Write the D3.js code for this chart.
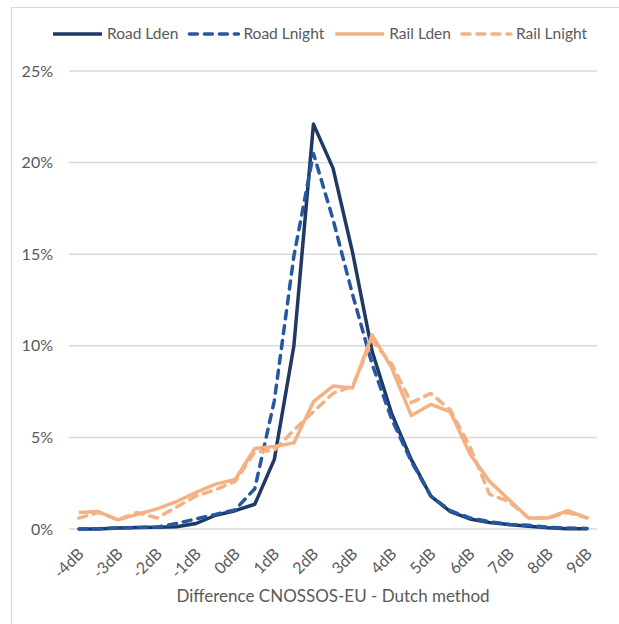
<!DOCTYPE html>
<html>
<head>
<meta charset="utf-8">
<script src="https://cdn.jsdelivr.net/npm/d3@7"></script>
<style>
  body { margin: 0; background: #fff; }
  svg text { font-family: Lato, "Open Sans", sans-serif; fill: #595959; }
</style>
</head>
<body>
<div id="chart"></div>
<script>
const categories = ["-4dB", "-3.5dB", "-3dB", "-2.5dB", "-2dB", "-1.5dB", "-1dB", "-0.5dB", "0dB",
  "0.5dB", "1dB", "1.5dB", "2dB", "2.5dB", "3dB", "3.5dB", "4dB", "4.5dB", "5dB", "5.5dB",
  "6dB", "6.5dB", "7dB", "7.5dB", "8dB", "8.5dB", "9dB"];
const tickLabels = ["-4dB", "-3dB", "-2dB", "-1dB", "0dB", "1dB", "2dB", "3dB", "4dB", "5dB", "6dB", "7dB", "8dB", "9dB"];

// percentages
const roadLden = [0.0, 0.0, 0.05, 0.08, 0.1, 0.12, 0.3, 0.75, 1.0, 1.35, 3.8, 10.0, 22.1, 19.7, 15.1, 9.7, 6.3, 3.8, 1.8, 0.95, 0.55, 0.35, 0.25, 0.15, 0.07, 0.02, 0.02];
const roadLnight = [0.0, 0.02, 0.05, 0.08, 0.1, 0.3, 0.55, 0.8, 1.05, 2.2, 7.0, 14.9, 20.5, 16.9, 12.8, 9.0, 6.0, 3.7, 1.8, 1.0, 0.6, 0.4, 0.25, 0.2, 0.1, 0.05, 0.03];
const railLden = [0.9, 0.95, 0.5, 0.8, 1.1, 1.5, 2.0, 2.45, 2.7, 4.4, 4.5, 4.7, 6.95, 7.8, 7.7, 10.6, 8.8, 6.2, 6.8, 6.4, 4.1, 2.6, 1.6, 0.6, 0.6, 1.0, 0.6];
const railLnight = [0.6, 0.9, 0.5, 0.9, 0.6, 1.2, 1.8, 2.15, 2.6, 4.2, 4.3, 5.4, 6.4, 7.4, 7.8, 10.3, 9.0, 6.9, 7.4, 6.5, 4.5, 1.9, 1.5, 0.6, 0.6, 0.9, 0.6];
const yTicks = [0, 5, 10, 15, 20, 25];

const series = [
  { name: "Road Lden", values: roadLden, color: "#1F3864", dash: null },
  { name: "Road Lnight", values: roadLnight, color: "#2558A3", dash: "8,7" },
  { name: "Rail Lden", values: railLden, color: "#F4B183", dash: null },
  { name: "Rail Lnight", values: railLnight, color: "#F4B183", dash: "8,7" }
];

const W = 619, H = 624;
const plot = { left: 69, right: 597, top: 71, bottom: 529 };

const svg = d3.select("#chart").append("svg")
  .attr("width", W)
  .attr("height", H);

// chart frame
svg.append("rect")
  .attr("x", 11.5).attr("y", 7.5)
  .attr("width", W + 20).attr("height", H + 20)
  .attr("fill", "none")
  .attr("stroke", "#D9D9D9")
  .attr("stroke-width", 1);

const x = d3.scaleBand()
  .domain(categories)
  .range([plot.left, plot.right])
  .padding(0);
const cx = c => x(c) + x.bandwidth() / 2;

const y = d3.scaleLinear()
  .domain([0, 25])
  .range([plot.bottom, plot.top]);

// gridlines + y labels
svg.append("g")
  .selectAll("line")
  .data(yTicks)
  .join("line")
  .attr("x1", plot.left)
  .attr("x2", plot.right)
  .attr("y1", d => y(d))
  .attr("y2", d => y(d))
  .attr("stroke", "#D9D9D9")
  .attr("stroke-width", 1.5);

svg.append("g")
  .selectAll("text")
  .data(yTicks)
  .join("text")
  .attr("x", 53)
  .attr("y", d => y(d))
  .attr("dy", "0.35em")
  .attr("text-anchor", "end")
  .style("font-size", "16px")
  .text(d => d + "%");

// x labels, rotated
svg.append("g")
  .selectAll("text")
  .data(tickLabels)
  .join("text")
  .attr("transform", d => `translate(${cx(d) + 2},551) rotate(-45)`)
  .attr("dy", "0.35em")
  .attr("text-anchor", "end")
  .style("font-size", "16px")
  .text(d => d);

svg.append("text")
  .attr("x", 333)
  .attr("y", 596)
  .attr("dy", "0.35em")
  .attr("text-anchor", "middle")
  .style("font-size", "17px")
  .text("Difference CNOSSOS-EU - Dutch method");

// lines
const line = d3.line()
  .x((d, i) => cx(categories[i]))
  .y(d => y(d));

svg.append("g")
  .selectAll("path")
  .data(series)
  .join("path")
  .attr("d", d => line(d.values))
  .attr("fill", "none")
  .attr("stroke", d => d.color)
  .attr("stroke-width", 3.5)
  .attr("stroke-linejoin", "round")
  .attr("stroke-linecap", d => d.dash ? "round" : "butt")
  .attr("stroke-dasharray", d => d.dash);

// legend
const legend = svg.append("g");
let lx = 53;
const ly = 34;
series.forEach(s => {
  legend.append("line")
    .attr("x1", lx).attr("x2", lx + 49)
    .attr("y1", ly).attr("y2", ly)
    .attr("stroke", s.color)
    .attr("stroke-width", 3.5)
    .attr("stroke-linecap", s.dash ? "round" : "butt")
    .attr("stroke-dasharray", s.dash);
  const t = legend.append("text")
    .attr("x", lx + 54)
    .attr("y", ly)
    .attr("dy", "0.35em")
    .style("font-size", "15.5px")
    .text(s.name);
  lx += 54 + t.node().getComputedTextLength() + 11;
});
</script>
</body>
</html>
